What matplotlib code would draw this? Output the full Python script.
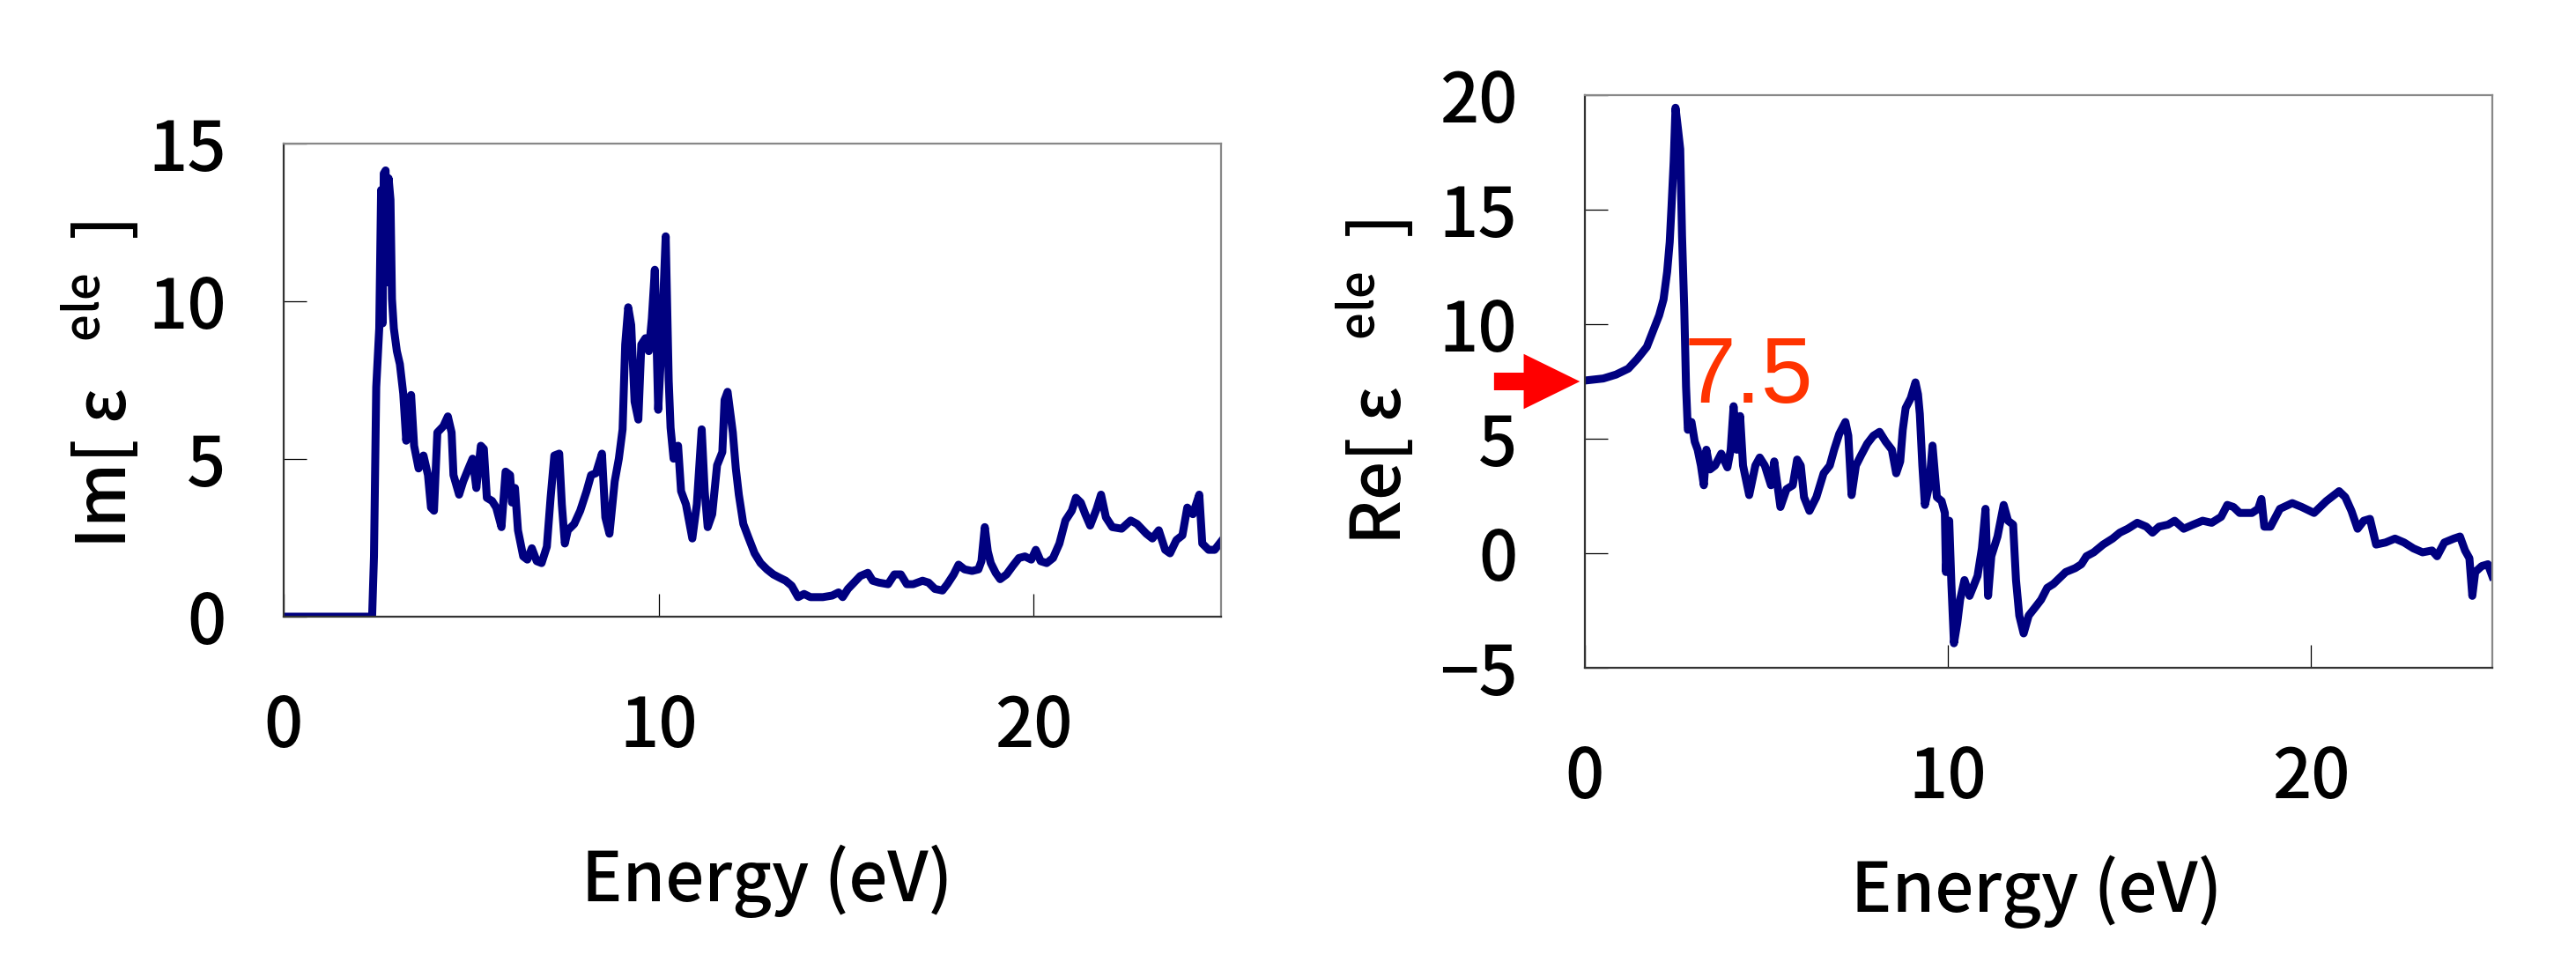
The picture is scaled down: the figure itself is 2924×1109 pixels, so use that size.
import matplotlib
matplotlib.use("Agg")
from matplotlib import pyplot as plt

plt.rcParams['font.family'] = ['Noto Sans CJK JP', 'DejaVu Sans']
plt.rcParams['font.weight'] = 'medium'
plt.rcParams['mathtext.default'] = 'regular'

# Im part
im_energy = [0.0, 2.36, 2.41, 2.47, 2.55, 2.60, 2.64, 2.67, 2.72, 2.77,
             2.80, 2.85, 2.89, 2.94, 3.02, 3.10, 3.19, 3.27, 3.40, 3.48,
             3.60, 3.73, 3.85, 3.93, 4.01, 4.10, 4.26, 4.38, 4.48, 4.53,
             4.68, 4.79, 4.93, 5.04, 5.14, 5.26, 5.34, 5.42, 5.56, 5.67,
             5.81, 5.92, 6.04, 6.09, 6.17, 6.25, 6.39, 6.50, 6.62, 6.75,
             6.88, 7.02, 7.12, 7.22, 7.35, 7.42, 7.50, 7.58, 7.75, 7.91,
             8.08, 8.20, 8.33, 8.49, 8.58, 8.69, 8.83, 8.94, 9.04, 9.11,
             9.19, 9.27, 9.36, 9.46, 9.54, 9.65, 9.74, 9.82, 9.90, 9.99,
             10.07, 10.19, 10.27, 10.32, 10.40, 10.52, 10.60, 10.73, 10.90, 11.02,
             11.15, 11.23, 11.31, 11.43, 11.56, 11.70, 11.76, 11.84, 11.98, 12.06,
             12.14, 12.26, 12.39, 12.56, 12.72, 12.89, 13.06, 13.22, 13.39, 13.55,
             13.72, 13.88, 14.05, 14.38, 14.63, 14.80, 14.91, 15.05, 15.21, 15.38,
             15.58, 15.71, 15.88, 16.12, 16.29, 16.46, 16.62, 16.79, 17.04, 17.20,
             17.37, 17.57, 17.70, 17.87, 18.00, 18.16, 18.36, 18.53, 18.61, 18.70,
             18.78, 18.86, 18.99, 19.11, 19.28, 19.44, 19.61, 19.77, 19.94, 20.06,
             20.19, 20.35, 20.52, 20.69, 20.85, 21.02, 21.13, 21.26, 21.38, 21.51,
             21.68, 21.80, 21.93, 22.10, 22.35, 22.59, 22.76, 23.01, 23.17, 23.34,
             23.51, 23.64, 23.81, 23.97, 24.10, 24.25, 24.42, 24.50, 24.67, 24.83,
             25.0]
im_value = [0.0, 0.0, 1.91, 7.28, 9.14, 13.53, 9.3, 14.05, 14.15, 10.6,
            13.9, 13.22, 10.07, 9.14, 8.42, 8.01, 7.08, 5.58, 7.03, 5.42,
            4.70, 5.11, 4.49, 3.46, 3.36, 5.84, 6.04, 6.35, 5.84, 4.49,
            3.87, 4.29, 4.70, 5.01, 4.08, 5.42, 5.32, 3.77, 3.67, 3.46,
            2.84, 4.60, 4.49, 3.62, 4.08, 2.74, 1.91, 1.81, 2.17, 1.76,
            1.70, 2.22, 3.77, 5.11, 5.17, 3.56, 2.32, 2.74, 2.94, 3.36,
            3.98, 4.49, 4.55, 5.17, 3.15, 2.63, 4.29, 5.01, 5.94, 8.63,
            9.81, 9.25, 6.82, 6.25, 8.63, 8.83, 8.42, 9.45, 11.00, 6.56,
            8.42, 12.06, 7.49, 5.99, 5.01, 5.42, 3.98, 3.56, 2.48, 3.56,
            5.94, 3.98, 2.84, 3.25, 4.80, 5.22, 6.87, 7.13, 5.84, 4.70,
            3.87, 2.94, 2.53, 2.01, 1.70, 1.50, 1.34, 1.24, 1.14, 0.98,
            0.62, 0.72, 0.62, 0.62, 0.67, 0.77, 0.62, 0.88, 1.08, 1.29,
            1.39, 1.14, 1.08, 1.03, 1.34, 1.34, 1.03, 1.03, 1.14, 1.08,
            0.88, 0.83, 1.03, 1.34, 1.65, 1.50, 1.45, 1.50, 1.76, 2.84,
            2.07, 1.70, 1.39, 1.19, 1.34, 1.60, 1.86, 1.91, 1.81, 2.12,
            1.76, 1.70, 1.86, 2.32, 3.05, 3.36, 3.77, 3.62, 3.25, 2.89,
            3.41, 3.87, 3.15, 2.84, 2.79, 3.05, 2.94, 2.63, 2.48, 2.74,
            2.12, 2.01, 2.43, 2.58, 3.46, 3.25, 3.87, 2.32, 2.12, 2.12,
            2.38]

# Re part
re_energy = [0.0, 0.51, 0.86, 1.20, 1.45, 1.71, 1.88, 2.05, 2.17, 2.27,
             2.34, 2.39, 2.45, 2.50, 2.57, 2.63, 2.68, 2.74, 2.79, 2.84,
             2.94, 3.03, 3.11, 3.20, 3.28, 3.35, 3.45, 3.59, 3.76, 3.93,
             4.02, 4.10, 4.19, 4.28, 4.36, 4.53, 4.70, 4.82, 4.96, 5.13,
             5.22, 5.39, 5.56, 5.73, 5.85, 5.95, 6.04, 6.19, 6.38, 6.58,
             6.75, 6.87, 7.01, 7.18, 7.26, 7.35, 7.47, 7.61, 7.78, 7.95,
             8.12, 8.29, 8.46, 8.58, 8.69, 8.76, 8.84, 8.98, 9.11, 9.18,
             9.23, 9.30, 9.37, 9.49, 9.58, 9.70, 9.83, 9.92, 9.95, 10.04,
             10.10, 10.17, 10.26, 10.34, 10.46, 10.60, 10.69, 10.82, 10.94, 11.04,
             11.11, 11.20, 11.37, 11.54, 11.66, 11.80, 11.88, 11.97, 12.09, 12.23,
             12.40, 12.57, 12.74, 12.91, 13.08, 13.25, 13.51, 13.68, 13.82, 14.02,
             14.28, 14.54, 14.74, 14.96, 15.22, 15.47, 15.64, 15.82, 16.07, 16.25,
             16.50, 16.76, 17.02, 17.27, 17.53, 17.70, 17.87, 18.04, 18.38, 18.55,
             18.64, 18.72, 18.89, 19.15, 19.49, 19.75, 20.09, 20.43, 20.78, 20.95,
             21.12, 21.29, 21.46, 21.63, 21.80, 22.06, 22.32, 22.57, 22.83, 23.08,
             23.34, 23.48, 23.68, 23.94, 24.11, 24.25, 24.37, 24.45, 24.53, 24.71,
             24.88, 25.0]
re_value = [7.54, 7.63, 7.80, 8.06, 8.49, 9.01, 9.70, 10.39, 11.08, 12.29,
            13.58, 15.13, 17.12, 19.45, 18.50, 17.64, 13.84, 10.74, 7.28, 5.39,
            5.73, 4.87, 4.52, 3.83, 2.97, 4.52, 3.66, 3.83, 4.35, 3.75,
            4.52, 6.42, 4.52, 5.99, 3.83, 2.54, 3.83, 4.18, 3.83, 2.97,
            4.01, 2.02, 2.80, 2.97, 4.09, 3.83, 2.45, 1.85, 2.45, 3.49,
            3.83, 4.52, 5.21, 5.73, 5.13, 2.54, 3.83, 4.27, 4.78, 5.13,
            5.30, 4.87, 4.52, 3.49, 4.01, 5.39, 6.34, 6.77, 7.46, 6.94,
            6.08, 3.83, 2.11, 2.97, 4.70, 2.45, 2.28, 1.76, -0.82, 1.42,
            -1.34, -3.93, -3.07, -2.03, -1.17, -1.86, -1.51, -0.99, 0.21, 1.94,
            -1.86, -0.13, 0.73, 2.11, 1.42, 1.25, -1.17, -2.72, -3.50, -2.72,
            -2.38, -2.03, -1.51, -1.34, -1.08, -0.82, -0.65, -0.48, -0.13, 0.04,
            0.38, 0.64, 0.90, 1.07, 1.33, 1.16, 0.90, 1.16, 1.25, 1.42,
            1.07, 1.25, 1.42, 1.33, 1.59, 2.11, 2.02, 1.76, 1.76, 1.94,
            2.37, 1.16, 1.16, 1.94, 2.19, 2.02, 1.76, 2.28, 2.71, 2.45,
            1.85, 1.07, 1.42, 1.50, 0.38, 0.47, 0.64, 0.47, 0.21, 0.04,
            0.12, -0.13, 0.47, 0.64, 0.73, 0.12, -0.22, -1.86, -0.82, -0.56,
            -0.48, -1.00]

x_ticks = [0, 10, 20]
im_ticks = [0, 5, 10, 15]
re_ticks = [-5, 0, 5, 10, 15, 20]
eps_static = 7.5

navy = '#000080'
fsize = 56

fig = plt.figure(figsize=(29.24, 11.09), dpi=100)
axL = fig.add_axes([0.1101, 0.3688, 0.3639, 0.4842])
axR = fig.add_axes([0.6152, 0.3165, 0.3523, 0.5861])


def style(ax, ypad):
    ax.set_xlim(0, 25)
    ax.set_xticks(x_ticks)
    ax.tick_params(axis='both', direction='in', length=19, width=0.9,
                   labelsize=fsize, color='black')
    ax.tick_params(axis='x', pad=62)
    ax.tick_params(axis='y', pad=ypad)
    for s in ['left', 'bottom']:
        ax.spines[s].set_color('#333333')
        ax.spines[s].set_linewidth(1.6)
    for s in ['top', 'right']:
        ax.spines[s].set_color('#888888')
        ax.spines[s].set_linewidth(1.6)


axL.plot(im_energy, im_value, color=navy, lw=6.5)
axL.set_ylim(0, 15)
axL.set_yticks(im_ticks)
style(axL, 47)

axR.plot(re_energy, re_value, color=navy, lw=6.5)
axR.set_ylim(-5, 20)
axR.set_yticks(re_ticks)
style(axR, 55)

# axis labels
fig.text(871 / 2924, 1 - 1000 / 1109, 'Energy (eV)', fontsize=fsize,
         ha='center', va='center')
fig.text(2312 / 2924, 1 - 1012 / 1109, 'Energy (eV)', fontsize=fsize,
         ha='center', va='center')
axL.text(-0.195, 0.49, r'Im[ ε   $^{ele}$  ]', transform=axL.transAxes,
         fontsize=fsize, rotation=90, ha='center', va='center',
         rotation_mode='anchor')
axR.text(-0.231, 0.498, r'Re[ ε   $^{ele}$  ]', transform=axR.transAxes,
         fontsize=fsize, rotation=90, ha='center', va='center',
         rotation_mode='anchor')

# red arrow + value at E = 0
axR.annotate('', xy=(0, eps_static), xytext=(-103, 0), textcoords='offset pixels',
             annotation_clip=False,
             arrowprops=dict(arrowstyle='simple,head_length=1.02,head_width=1.0,tail_width=0.32',
                             color='red', mutation_scale=45, shrinkA=0, shrinkB=4, lw=0))
axR.text(2.74, 6.58, '7.5', color='#FF3300', fontsize=76, family='Liberation Sans',
         fontweight='normal', ha='left', va='baseline')

fig.savefig('out.png', dpi=100)
